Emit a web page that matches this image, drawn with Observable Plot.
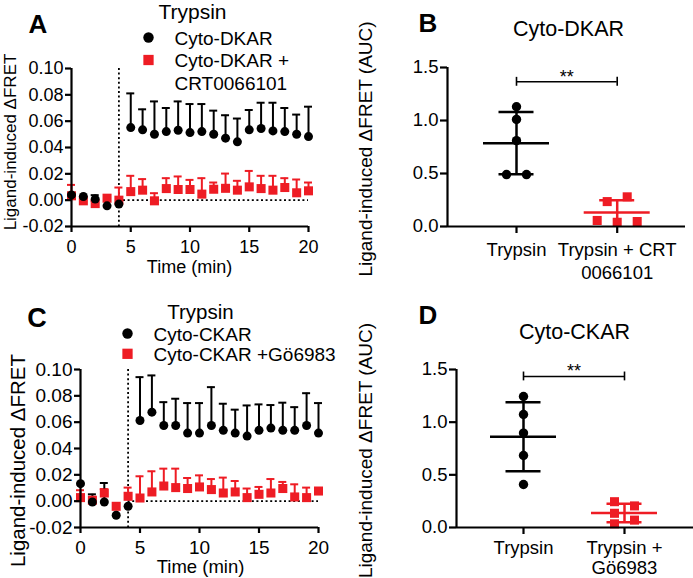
<!DOCTYPE html>
<html><head><meta charset="utf-8">
<script src="https://cdn.jsdelivr.net/npm/d3@7"></script>
<script src="https://cdn.jsdelivr.net/npm/@observablehq/plot@0.6"></script>
<style>
body{margin:0;background:#fff}
#fig{position:relative;width:693px;height:578px;overflow:hidden;background:#fff}
#fig svg{position:absolute;overflow:visible}
</style></head><body><div id="fig"></div>
<script>
// ---------- data ----------
const timeMin = [0,1,2,3,4,5,6,7,8,9,10,11,12,13,14,15,16,17,18,19,20];
const timeTicks = [0,5,10,15,20];
const fretTicks = [-0.02,0,0.02,0.04,0.06,0.08,0.10];
const stimulusMin = 4;

// Panel A: Cyto-DKAR (mean, SEM)
const dkarMean = [0.004,0.0028,0.0008,-0.0043,-0.003,0.0551,0.0534,0.0501,0.0521,0.0531,0.0513,0.0521,0.0501,0.0471,0.0443,0.0534,0.0544,0.0526,0.0521,0.0501,0.0483];
const dkarSem  = [0,0,0.003,0,0,0.026,0.0156,0.0249,0.0179,0.0219,0.0217,0.0209,0.0179,0.0174,0.0177,0.0151,0.0196,0.0214,0.0179,0.0149,0.0227];
const dkarCrtMean = [0.0033,-0.0005,-0.0026,0.0015,0.0,0.0065,0.0076,-0.0005,0.0088,0.0081,0.0081,0.0046,0.0083,0.009,0.0076,0.0101,0.0088,0.0076,0.0096,0.0056,0.0071];
const dkarCrtSem  = [0.0083,0,0.002,0,0.0096,0.012,0.0084,0.0058,0.0079,0.0099,0.0073,0.0121,0.0051,0.0112,0.0071,0.0121,0.0097,0.0109,0.0071,0.0101,0.0063];

// Panel C: Cyto-CKAR (mean, SEM)
const ckarMean = [0.0133,-0.0006,-0.0006,-0.0107,-0.0039,0.0613,0.0676,0.0575,0.0575,0.0517,0.0517,0.0575,0.0538,0.0517,0.0494,0.0538,0.0555,0.0538,0.0538,0.0575,0.0517];
const ckarSem  = [0,0.0058,0.0144,0,0,0.0329,0.0279,0.0177,0.0203,0.0228,0.0228,0.0291,0.0202,0.0178,0.0233,0.0197,0.0175,0.021,0.0176,0.0245,0.0228];
const ckarGoMean = [0.0027,0.0007,0.0062,-0.0039,0.0037,0.0024,0.007,0.0115,0.0103,0.0096,0.0108,0.0088,0.0062,0.007,0.0027,0.0052,0.0062,0.0096,0.0032,0.0027,0.0077];
const ckarGoSem  = [0.0056,0,0.003,0,0.0066,0.0165,0.0157,0.0132,0.0144,0.008,0.0088,0.008,0.0117,0.0083,0.0069,0.0056,0.0106,0.005,0.0096,0.0076,0];

// Panels B, D: AUC per experiment
const aucTicks = [0,0.5,1.0,1.5];
const groupsB = ["Trypsin","Trypsin + CRT\n0066101"];
const aucDkarTrypsin = [1.13,1.01,0.81,0.49,0.49];
const aucDkarCrt = [0.28,0.235,0.057,0.047,0.04];
const sigB = {from:0, to:1, y:1.365, label:"**"};

const groupsD = ["Trypsin","Trypsin +\nGö6983"];
const aucCkarTrypsin = [1.244,1.073,0.896,0.684,0.408];
const aucCkarGo = [0.245,0.205,0.135,0.07,0.035];
const sigD = {from:0, to:1, y:1.434, label:"**"};

// ---------- helpers ----------
const FONT = '"Liberation Sans", Arial, Helvetica, sans-serif';
const RED = "#ee1c24";
const BLACK = "#000";
const fig = document.getElementById("fig");

function place(node, left, top){ node.style.left = left+"px"; node.style.top = top+"px"; fig.appendChild(node); }

// text / symbol placed at SVG-local pixel position
function at(ml, mt){
  return {
    text: (s, x, y, o={}) => Plot.text([s], {text: d=>d, frameAnchor:"top-left", dx: x-ml, dy: y-mt, textAnchor:"middle", lineAnchor:"bottom", fill: BLACK, ...o}),
    dot: (x, y, o={}) => Plot.dot([0], {frameAnchor:"top-left", dx: x-ml, dy: y-mt, stroke:"none", ...o})
  };
}

function timePanel(cfg){
  const {w,h,ml,mt,mr,mb,tickFont,xPad,series,texts} = cfg;
  const pxX = (w-ml-mr)/20;
  const capHalf = 4/pxX;
  const marks = [
    Plot.ruleX([stimulusMin], {stroke:BLACK, strokeWidth:1.8, strokeDasharray:"2,2.6"}),
    Plot.ruleY([0], {x1: stimulusMin, x2: 20, stroke:BLACK, strokeWidth:1.8, strokeDasharray:"2,2.6"})
  ];
  for (const s of series){
    const rows = timeMin.map((t,i)=>({t, mean:s.mean[i], sem:s.sem[i]}));
    const withErr = rows.filter(d=>d.sem>0);
    marks.push(
      Plot.ruleX(withErr, {x:"t", y1:"mean", y2:d=>d.mean+d.sem, stroke:s.color, strokeWidth:2}),
      Plot.ruleY(withErr, {x1:d=>d.t-capHalf, x2:d=>d.t+capHalf, y:d=>d.mean+d.sem, stroke:s.color, strokeWidth:2})
    );
    s.rows = rows;
  }
  for (const s of series){
    marks.push(Plot.dot(s.rows, {x:"t", y:"mean", symbol:s.symbol, r:s.r, fill:s.color, stroke:"none"}));
  }
  marks.push(
    Plot.ruleX([0], {stroke:BLACK, strokeWidth:2.2}),
    Plot.ruleY([-0.02], {stroke:BLACK, strokeWidth:2.2}),
    Plot.axisY({ticks: fretTicks, tickFormat: d=>d.toFixed(2), tickSize:6, tickPadding:2, fontSize:tickFont, strokeWidth:2.2, label:null}),
    Plot.axisX({ticks: timeTicks, tickFormat: d=>String(d), tickSize:6, tickPadding:xPad, fontSize:tickFont, strokeWidth:2.2, label:null}),
    ...texts(at(ml,mt))
  );
  return Plot.plot({
    width:w, height:h, marginLeft:ml, marginTop:mt, marginRight:mr, marginBottom:mb,
    x:{domain:[0,20], label:null}, y:{domain:[-0.02,0.10], label:null},
    style:{fontFamily:FONT, fontSize:"18px", color:BLACK, background:"transparent", overflow:"visible"},
    marks
  });
}

// column-scatter placement: beeswarm, then centre each overlapping cluster
function swarm(values, pxPerY, size, step){
  const idx = d3.range(values.length).sort((a,b)=>values[a]-values[b]);
  const off = new Array(values.length);
  const placed = [];
  for (const i of idx){
    for (let k=0; k<20; k++){
      const c = k===0 ? 0 : (k%2 ? 1 : -1)*Math.ceil(k/2)*step;
      const ok = placed.every(j => Math.abs(off[j]-c) >= step-0.01 || Math.abs(values[j]-values[i])*pxPerY >= size);
      if (ok){ off[i]=c; placed.push(i); break; }
    }
  }
  const comps = []; let comp = [];
  idx.forEach((i,n)=>{
    if (n>0 && (values[i]-values[idx[n-1]])*pxPerY < size) comp.push(i);
    else { if (comp.length) comps.push(comp); comp=[i]; }
  });
  comps.push(comp);
  for (const c of comps){
    const mid = (d3.min(c,i=>off[i]) + d3.max(c,i=>off[i]))/2;
    c.forEach(i=>off[i]-=mid);
  }
  return off;
}

function aucPanel(cfg){
  const {w,h,ml,mt,mr,mb,cat0,cat1,groups,sets,sig,xPad,lineHeight,texts} = cfg;
  const pxX = cat1-cat0;
  const pxY = (h-mt-mb)/1.5;
  const xDom = [(ml-cat0)/pxX, (w-mr-cat0)/pxX];
  const meanHalf = 33/pxX, capHalf = 17.5/pxX;
  const marks = [];
  const summaries = sets.map((s,gi)=>({g:gi, mean:d3.mean(s.values), sd:d3.deviation(s.values), color:s.color}));
  for (const m of summaries){
    marks.push(
      Plot.ruleY([m], {x1:d=>d.g-meanHalf, x2:d=>d.g+meanHalf, y:"mean", stroke:m.color, strokeWidth:2.5}),
      Plot.ruleX([m], {x:"g", y1:d=>Math.max(0,d.mean-d.sd), y2:d=>d.mean+d.sd, stroke:m.color, strokeWidth:2.5}),
      Plot.ruleY([m.mean+m.sd, m.mean-m.sd].filter(v=>v>0.02), {x1:m.g-capHalf, x2:m.g+capHalf, stroke:m.color, strokeWidth:2.5})
    );
  }
  sets.forEach((s,gi)=>{
    const off = swarm(s.values, pxY, 10, 20);
    const pts = s.values.map((v,i)=>({x: gi + off[i]/pxX, y:v}));
    marks.push(Plot.dot(pts, {x:"x", y:"y", symbol:s.symbol, r:s.r, fill:s.color, stroke:"none"}));
  });
  marks.push(
    Plot.ruleY([sig], {x1:"from", x2:"to", y:"y", stroke:BLACK, strokeWidth:1.6}),
    Plot.ruleX([sig.from, sig.to], {y1:sig.y-0.042, y2:sig.y+0.042, stroke:BLACK, strokeWidth:1.6}),
    Plot.text([sig], {x:d=>(d.from+d.to)/2, y:"y", text:"label", lineAnchor:"bottom", dy:1, fontSize:18, fill:BLACK}),
    Plot.ruleX([xDom[0]], {stroke:BLACK, strokeWidth:2.2}),
    Plot.ruleY([0], {stroke:BLACK, strokeWidth:2.2}),
    Plot.axisY({ticks: aucTicks, tickFormat: d=>d.toFixed(1), tickSize:7, tickPadding:2, fontSize:18.5, strokeWidth:2.2, label:null}),
    Plot.axisX({ticks: [0,1], tickFormat: i=>groups[i], tickSize:7, tickPadding:xPad, fontSize:18.5, lineHeight, strokeWidth:2.2, label:null}),
    ...texts(at(ml,mt))
  );
  return Plot.plot({
    width:w, height:h, marginLeft:ml, marginTop:mt, marginRight:mr, marginBottom:mb,
    x:{domain:xDom, label:null}, y:{domain:[0,1.5], label:null},
    style:{fontFamily:FONT, fontSize:"18px", color:BLACK, background:"transparent", overflow:"visible"},
    marks
  });
}

// ---------- Panel A ----------
place(timePanel({
  w:340, h:290, ml:71, mt:68, mr:32, mb:64, tickFont:18, xPad:8,
  series:[
    {mean:dkarCrtMean, sem:dkarCrtSem, color:RED, symbol:"square", r:5.1},
    {mean:dkarMean, sem:dkarSem, color:BLACK, symbol:"circle", r:4.5}
  ],
  texts: P => [
    P.text("A", 28, 32, {textAnchor:"start", fontSize:26, fontWeight:"bold"}),
    P.text("Trypsin", 192, 18, {fontSize:21}),
    P.dot(148, 37, {r:5.2, fill:BLACK, symbol:"circle"}),
    P.text("Cyto-DKAR", 174, 44, {textAnchor:"start", fontSize:19}),
    P.dot(148, 59.5, {r:5.8, fill:RED, symbol:"square"}),
    P.text("Cyto-DKAR +", 174, 66.7, {textAnchor:"start", fontSize:19}),
    P.text("CRT0066101", 174, 89, {textAnchor:"start", fontSize:19}),
    P.text("Ligand-induced ΔFRET", 10.5, 141.5, {rotate:-90, lineAnchor:"middle", fontSize:17}),
    P.text("Time (min)", 189, 272, {fontSize:18})
  ]
}), 0, 0);

// ---------- Panel C ----------
place(timePanel({
  w:340, h:288, ml:80, mt:79, mr:22, mb:51, tickFont:19, xPad:6.5,
  series:[
    {mean:ckarGoMean, sem:ckarGoSem, color:RED, symbol:"square", r:5.1},
    {mean:ckarMean, sem:ckarSem, color:BLACK, symbol:"circle", r:4.5}
  ],
  texts: P => [
    P.text("C", 26.7, 36, {textAnchor:"start", fontSize:27, fontWeight:"bold"}),
    P.text("Trypsin", 200, 28.3, {fontSize:20.5}),
    P.dot(127, 43, {r:5.2, fill:BLACK, symbol:"circle"}),
    P.text("Cyto-CKAR", 153, 50, {textAnchor:"start", fontSize:19}),
    P.dot(127, 63.3, {r:5.8, fill:RED, symbol:"square"}),
    P.text("Cyto-CKAR +Gö6983", 153, 70.7, {textAnchor:"start", fontSize:19}),
    P.text("Ligand-induced ΔFRET", 18, 170, {rotate:-90, lineAnchor:"middle", fontSize:20.5}),
    P.text("Time (min)", 200, 282.7, {fontSize:18.5})
  ]
}), 0, 290);

// ---------- Panel B ----------
place(aucPanel({
  w:353, h:290, ml:107, mt:67, mr:8, mb:64, cat0:176, cat1:276.7,
  groups: groupsB, sig: sigB, xPad:6, lineHeight:1.24,
  sets:[
    {values:aucDkarTrypsin, color:BLACK, symbol:"circle", r:4.7},
    {values:aucDkarCrt, color:RED, symbol:"square", r:5.1}
  ],
  texts: P => [
    P.text("B", 78, 31, {textAnchor:"start", fontSize:26, fontWeight:"bold"}),
    P.text("Cyto-DKAR", 228, 35, {fontSize:21.5}),
    P.text("Ligand-induced ΔFRET (AUC)", 25, 148.5, {rotate:-90, lineAnchor:"middle", fontSize:19})
  ]
}), 340, 0);

// ---------- Panel D ----------
place(aucPanel({
  w:353, h:288, ml:116, mt:79, mr:0, mb:51, cat0:183, cat1:284,
  groups: groupsD, sig: sigD, xPad:5, lineHeight:1.1,
  sets:[
    {values:aucCkarTrypsin, color:BLACK, symbol:"circle", r:4.7},
    {values:aucCkarGo, color:RED, symbol:"square", r:5.1}
  ],
  texts: P => [
    P.text("D", 78, 33.3, {textAnchor:"start", fontSize:26, fontWeight:"bold"}),
    P.text("Cyto-CKAR", 234, 48, {fontSize:21.5}),
    P.text("Ligand-induced ΔFRET (AUC)", 25, 160, {rotate:-90, lineAnchor:"middle", fontSize:19})
  ]
}), 340, 290);
</script></body></html>
